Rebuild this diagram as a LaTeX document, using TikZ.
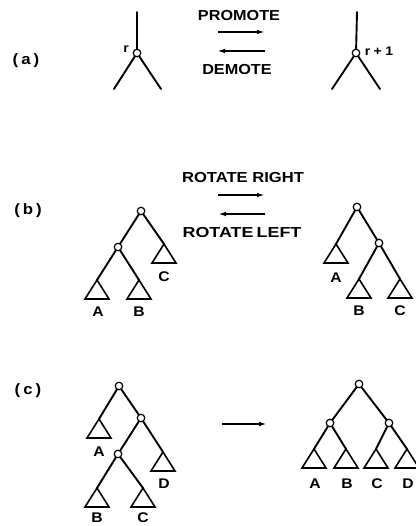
\documentclass[tikz,border=0pt]{standalone}
\usepackage{fontspec}
\usepackage{graphicx}
\setmainfont{Liberation Sans}
\newfontfamily\labfont[FakeStretch=1.12]{Liberation Sans}
\usetikzlibrary{arrows.meta}
\newcommand\subtree[1]{\draw[tri] (#1) -- ++(-12,19) -- ++(24,0) -- cycle;}
\begin{document}
\begin{tikzpicture}[x=1pt,y=-1pt,
  edge/.style={line width=1.9pt,line cap=round},
  vnode/.style={circle,draw,line width=1.2pt,fill=white,inner sep=0pt,minimum size=7.5pt},
  tri/.style={line width=1.6pt,line join=miter},
  lab/.style={font=\labfont\bfseries\fontsize{14}{14}\selectfont,inner sep=0pt},
  head/.style={font=\labfont\bfseries\fontsize{14.5}{14.5}\selectfont,inner sep=0pt},
  part/.style={font=\labfont\bfseries\fontsize{15}{15}\selectfont,inner sep=0pt},
  small/.style={font=\labfont\bfseries\fontsize{12.5}{12.5}\selectfont,inner sep=0pt},
  arr/.style={line width=1.6pt,-{Latex[length=8pt,width=4.6pt]}},
]
\useasboundingbox (0,0) rectangle (415,526);
\fill[white] (0,0) rectangle (415,526);

% ---------- (a) ----------
\node[part] (pa) at (26,61) {(\hspace{3pt}a\hspace{3pt})};
\node[vnode] (ar) at (137,53) {};
\coordinate (art) at (137,12);
\coordinate (arl) at (114,89);
\coordinate (arrt) at (161,89);
\draw[edge] (art) -- (ar);
\draw[edge] (ar) -- (arl);
\draw[edge] (ar) -- (arrt);
\node[small] (rl) at (126,49) {r};

\node[vnode] (as) at (356,53) {};
\coordinate (ast) at (357,12);
\coordinate (asl) at (332,89);
\coordinate (asr) at (380,89);
\draw[edge] (ast) -- (as);
\draw[edge] (as) -- (asl);
\draw[edge] (as) -- (asr);
\node[small] (rp) at (379,51) {r\hspace{3.5pt}+\hspace{3.5pt}1};

\node[head] (prom) at (239,16) {PROMOTE};
\node[head] (dem) at (237,70) {DEMOTE};
\coordinate (pa1) at (218,32); \coordinate (pa2) at (265,32);
\coordinate (da1) at (265,51); \coordinate (da2) at (217,51);
\draw[arr] (pa1) -- (pa2);
\draw[arr] (da1) -- (da2);

% ---------- (b) ----------
\node[part] (pb) at (28,211) {(\hspace{3pt}b\hspace{3pt})};
\node[head] (rr) at (243,178) {\scalebox{1.02}[1]{ROTATE RIGHT}};
\node[head] (rlft) at (242,233) {\scalebox{1.1}[1]{ROTATE\hspace{3pt}LEFT}};
\coordinate (ra1) at (218,195); \coordinate (ra2) at (265,195);
\coordinate (la1) at (265,214); \coordinate (la2) at (218,214);
\draw[arr] (ra1) -- (ra2);
\draw[arr] (la1) -- (la2);

% left tree
\node[vnode] (b1) at (141,211) {};
\node[vnode] (b2) at (118,247) {};
\coordinate (bC) at (164,244);
\coordinate (bA) at (97,280);
\coordinate (bB) at (139,280);
\draw[edge] (b1) -- (b2);
\draw[edge] (b1) -- (bC);
\draw[edge] (b2) -- (bA);
\draw[edge] (b2) -- (bB);
\subtree{bC} \subtree{bA} \subtree{bB}
\node[lab] (lbA) at (98,312) {A};
\node[lab] (lbB) at (139,312) {B};
\node[lab] (lbC) at (164,277) {C};

% right tree
\node[vnode] (c1) at (357,207) {};
\node[vnode] (c2) at (379,243) {};
\coordinate (cA) at (336,244);
\coordinate (cB) at (359,279);
\coordinate (cC) at (400,279);
\draw[edge] (c1) -- (cA);
\draw[edge] (c1) -- (c2);
\draw[edge] (c2) -- (cB);
\draw[edge] (c2) -- (cC);
\subtree{cA} \subtree{cB} \subtree{cC}
\node[lab] (lcA) at (336,278) {A};
\node[lab] (lcB) at (359,311) {B};
\node[lab] (lcC) at (400,311) {C};

% ---------- (c) ----------
\node[part] (pc) at (28,391) {(\hspace{3pt}c\hspace{3pt})};
\node[vnode] (d1) at (119,386) {};
\node[vnode] (d2) at (141,418) {};
\node[vnode] (d3) at (118,454) {};
\coordinate (dA) at (99,419);
\coordinate (dD) at (163,452);
\coordinate (dB) at (97,488);
\coordinate (dC) at (143,488);
\draw[edge] (d1) -- (dA);
\draw[edge] (d1) -- (d2);
\draw[edge] (d2) -- (d3);
\draw[edge] (d2) -- (dD);
\draw[edge] (d3) -- (dB);
\draw[edge] (d3) -- (dC);
\subtree{dA} \subtree{dD} \subtree{dB} \subtree{dC}
\node[lab] (ldA) at (99,452) {A};
\node[lab] (ldD) at (164,484) {D};
\node[lab] (ldB) at (97,518) {B};
\node[lab] (ldC) at (143,518) {C};

\coordinate (ca1) at (222,424); \coordinate (ca2) at (267,424);
\draw[arr] (ca1) -- (ca2);

\node[vnode] (e1) at (359,384) {};
\node[vnode] (e2) at (330,423) {};
\node[vnode] (e3) at (389,423) {};
\coordinate (eA) at (314,449);
\coordinate (eB) at (346,449);
\coordinate (eC) at (376,449);
\coordinate (eD) at (407,449);
\draw[edge] (e1) -- (e2);
\draw[edge] (e1) -- (e3);
\draw[edge] (e2) -- (eA);
\draw[edge] (e2) -- (eB);
\draw[edge] (e3) -- (eC);
\draw[edge] (e3) -- (eD);
\subtree{eA} \subtree{eB} \subtree{eC} \subtree{eD}
\node[lab] (leA) at (315,484) {A};
\node[lab] (leB) at (347,484) {B};
\node[lab] (leC) at (377,484) {C};
\node[lab] (leD) at (408,484) {D};
\end{tikzpicture}
\end{document}
